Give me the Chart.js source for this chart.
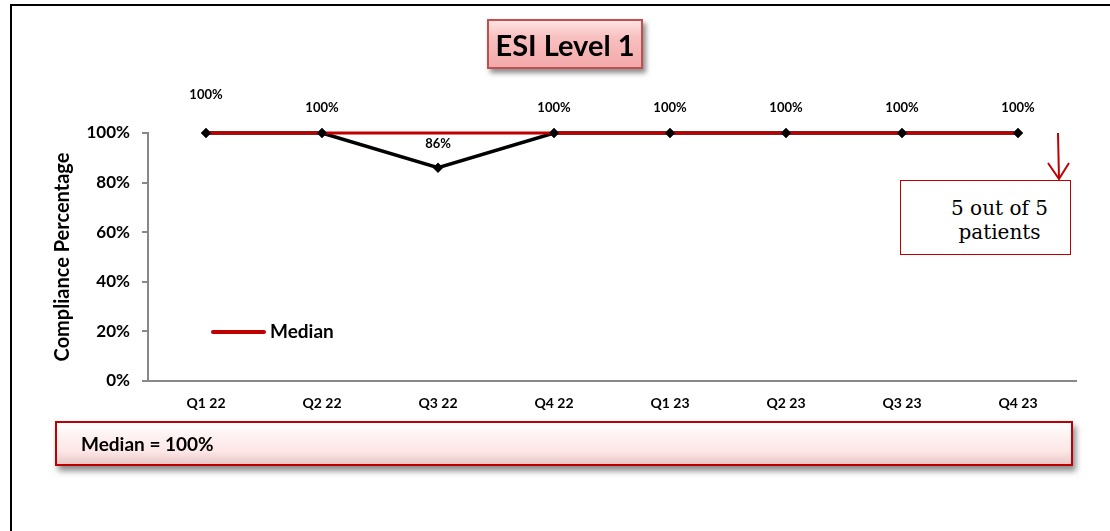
<!DOCTYPE html>
<html>
<head>
<meta charset="utf-8">
<script src="https://cdn.jsdelivr.net/npm/chart.js@4/dist/chart.umd.min.js"></script>
<style>
  html, body { margin:0; padding:0; background:#fff; width:1110px; height:531px; overflow:hidden; }
  #wrap { position:relative; width:1110px; height:531px; }
  #frame { position:absolute; left:10px; top:4px; width:1200px; height:600px; border-top:2px solid #000; border-left:2px solid #000; box-sizing:border-box; }
  canvas#c { position:absolute; left:0; top:0; }
  .title-box { position:absolute; left:487px; top:19px; width:156px; height:50px; box-sizing:border-box;
    border:2px solid #c0504d; background:linear-gradient(#fde3e3 0%, #f8c0c0 35%, #f3a9a9 100%);
    box-shadow:3px 4px 5px rgba(0,0,0,0.45); font-family:Lato, "Open Sans", sans-serif; font-weight:bold;
    font-size:29px; color:#000; display:flex; align-items:center; justify-content:center; }
  .median-box { position:absolute; left:55px; top:421px; width:1018px; height:45px; box-sizing:border-box;
    border:2px solid #c00000; background:linear-gradient(#ffffff 0%, #fff2f2 30%, #fde6e6 70%, #e8c8c8 100%);
    box-shadow:3px 5px 6px rgba(0,0,0,0.45); font-family:Lato, "Open Sans", sans-serif; font-weight:bold;
    font-size:19px; color:#000; display:flex; align-items:center; padding-left:24px; }
  .note-box { position:absolute; left:900px; top:180px; width:171px; height:75px; box-sizing:border-box;
    border:1.5px solid #c00000; background:#fff; font-family:"DejaVu Serif", serif; font-size:20px;
    line-height:24px; color:#000; display:flex; align-items:center; justify-content:center; text-align:center;
    padding-left:28px; padding-top:4px; }
  svg#arrow { position:absolute; left:0; top:0; }
</style>
</head>
<body>
<div id="wrap">
  <div id="frame"></div>
  <canvas id="c" width="1110" height="531"></canvas>
  <div class="title-box">ESI Level 1</div>
  <div class="note-box">5 out of 5<br>patients</div>
  <svg id="arrow" width="1110" height="531">
    <line x1="1058" y1="133" x2="1059" y2="179" stroke="#c00000" stroke-width="2"/>
    <polyline points="1048,163 1059,179 1069,163" fill="none" stroke="#c00000" stroke-width="2"/>
  </svg>
  <div class="median-box">Median = 100%</div>
</div>
<script>
// ---- Data ----
const categories = ["Q1 22", "Q2 22", "Q3 22", "Q4 22", "Q1 23", "Q2 23", "Q3 23", "Q4 23"];
const compliance = [100, 100, 86, 100, 100, 100, 100, 100];
const median = [100, 100, 100, 100, 100, 100, 100, 100];
const yTicks = [0, 20, 40, 60, 80, 100];
const medianLabel = "Median";
const yTitle = "Compliance Percentage";
// label vertical offsets (styling only)
const labelOffsets = [38, 25, 24, 25, 25, 25, 25, 25];

const FONT = "Lato, 'Open Sans', sans-serif";

const overlayPlugin = {
  id: 'overlay',
  afterDatasetsDraw(chart) {
    const ctx = chart.ctx;
    const meta = chart.getDatasetMeta(0);
    meta.data.forEach(p => p.draw(ctx));
    ctx.save();
    ctx.font = "bold 13px " + FONT;
    ctx.fillStyle = "#000";
    ctx.textAlign = "center";
    ctx.textBaseline = "middle";
    meta.data.forEach((p, i) => {
      ctx.fillText(compliance[i] + "%", p.x, p.y - labelOffsets[i]);
    });
    const ds = chart.data.datasets[1];
    ctx.strokeStyle = ds.borderColor;
    ctx.lineWidth = 4;
    ctx.lineCap = "round";
    ctx.beginPath();
    ctx.moveTo(213, 332);
    ctx.lineTo(264, 332);
    ctx.stroke();
    ctx.font = "bold 19px " + FONT;
    ctx.textAlign = "left";
    ctx.fillText(ds.label, 270, 332);
    ctx.restore();
  }
};

new Chart(document.getElementById('c'), {
  type: 'line',
  data: {
    labels: categories,
    datasets: [
      {
        label: "Compliance",
        data: compliance,
        borderColor: "#000",
        backgroundColor: "#000",
        borderWidth: 3.5,
        pointStyle: 'rectRot',
        pointRadius: 5,
        pointBackgroundColor: "#000",
        pointBorderColor: "#000",
        pointBorderWidth: 0,
        tension: 0,
        clip: false,
        order: 2
      },
      {
        label: medianLabel,
        data: median,
        borderColor: "#c00000",
        backgroundColor: "#c00000",
        borderWidth: 3,
        pointRadius: 0,
        tension: 0,
        clip: false,
        order: 1
      }
    ]
  },
  options: {
    responsive: false,
    animation: false,
    events: [],
    layout: { padding: { left: 0, top: 133, right: 34, bottom: 0 } },
    plugins: { legend: { display: false }, tooltip: { enabled: false }, title: { display: false } },
    scales: {
      x: {
        offset: true,
        grid: { display: false, drawTicks: false },
        border: { display: true, color: "#888", width: 2 },
        ticks: { color: "#000", font: { family: FONT, weight: 'bold', size: 14 }, padding: 14, maxRotation: 0 },
        afterFit(s) { s.height = 150; }
      },
      y: {
        min: 0, max: 100,
        afterBuildTicks(s) { s.ticks = yTicks.map(v => ({ value: v })); },
        grid: { display: true, drawOnChartArea: false, drawTicks: true, tickLength: 6, color: "#888", lineWidth: 2 },
        border: { display: true, color: "#888", width: 2 },
        ticks: { color: "#000", font: { family: FONT, weight: 'bold', size: 17 }, padding: 12, callback: v => v + "%" },
        title: { display: true, text: yTitle, color: "#000", font: { family: FONT, weight: 'bold', size: 20 }, padding: { top: 51, bottom: 0 } },
        afterFit(s) { s.width = 148; }
      }
    }
  },
  plugins: [overlayPlugin]
});
</script>
</body>
</html>
